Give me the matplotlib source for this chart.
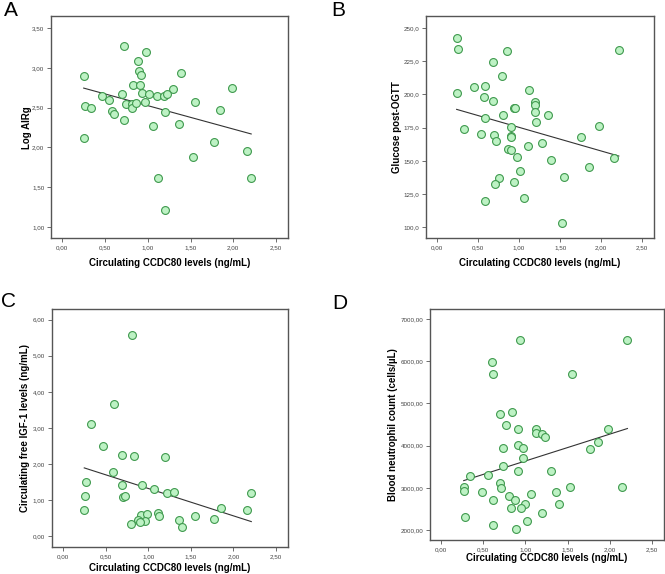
import matplotlib
matplotlib.use("Agg")
import numpy as np
from matplotlib import pyplot as plt
from matplotlib.ticker import FuncFormatter, MultipleLocator

plt.rcParams["font.family"] = ["Liberation Sans", "DejaVu Sans"]

# panel A: Log AIRg
a_x = [0.72, 0.98, 0.88, 0.90, 0.92, 0.25, 1.39, 0.83, 0.91, 1.98, 1.29, 0.70, 0.93, 1.01,
       1.11, 1.19, 1.22, 0.46, 0.55, 0.75, 0.81, 0.82, 0.86, 0.97, 1.55, 0.26, 0.33, 0.58,
       0.60, 1.20, 1.85, 0.72, 1.06, 1.36, 0.25, 1.77, 1.53, 2.16, 1.12, 2.21, 1.20]
a_y = [3.28, 3.20, 3.08, 2.96, 2.91, 2.90, 2.93, 2.78, 2.79, 2.75, 2.74, 2.67, 2.68, 2.67,
       2.65, 2.65, 2.67, 2.65, 2.60, 2.55, 2.55, 2.50, 2.56, 2.57, 2.57, 2.52, 2.50, 2.46,
       2.42, 2.45, 2.47, 2.34, 2.27, 2.30, 2.12, 2.07, 1.88, 1.95, 1.61, 1.62, 1.21]
a_fit = (2.819, -0.294)

# panel B: glucose post-OGTT
b_x = [0.24, 0.256, 0.85, 2.215, 0.68, 0.79, 0.455, 0.59, 0.244, 1.12, 0.57, 0.68, 0.935,
       0.955, 1.19, 1.19, 1.19, 0.805, 1.35, 1.21, 0.59, 0.325, 0.90, 1.97, 0.54, 0.69,
       0.715, 0.905, 0.90, 1.76, 1.11, 1.28, 0.866, 0.90, 0.97, 1.39, 2.16, 1.85, 1.01,
       1.545, 0.75, 0.71, 0.94, 1.06, 0.59, 1.52]
b_y = [242.2, 234.2, 232.4, 233.2, 224.4, 214.1, 205.3, 206.0, 201.3, 203.3, 198.2, 195.2,
       190.0, 190.0, 194.0, 192.0, 186.9, 184.2, 184.2, 179.1, 182.2, 174.1, 175.4, 176.1,
       170.1, 169.1, 165.1, 168.6, 167.6, 168.1, 161.1, 163.3, 159.0, 157.8, 153.0, 150.3,
       152.0, 145.0, 142.0, 138.0, 136.7, 132.7, 134.2, 122.1, 120.1, 102.8]
b_fit = (193.0, -17.8)

# panel C: free IGF-1
c_x = [0.81, 0.60, 0.335, 0.47, 0.69, 0.83, 1.20, 0.59, 0.265, 0.69, 0.93, 1.07, 1.22,
       1.30, 2.21, 0.257, 0.70, 0.73, 0.25, 1.86, 2.16, 1.55, 1.12, 1.125, 0.91, 0.985,
       0.88, 0.96, 0.90, 0.80, 1.36, 1.40, 1.77]
c_y = [5.57, 3.65, 3.10, 2.49, 2.26, 2.23, 2.20, 1.79, 1.49, 1.42, 1.43, 1.31, 1.20,
       1.23, 1.19, 1.11, 1.08, 1.12, 0.72, 0.77, 0.73, 0.57, 0.65, 0.57, 0.59, 0.62,
       0.44, 0.42, 0.38, 0.35, 0.44, 0.26, 0.48]
c_fit = (2.082, -0.759)

# panel D: neutrophil count
d_x = [0.93, 2.21, 0.60, 0.61, 1.55, 0.70, 0.845, 0.77, 0.916, 1.12, 1.13, 1.20, 1.23,
       1.98, 1.86, 1.77, 0.73, 0.916, 0.975, 0.967, 0.735, 0.916, 1.30, 0.56, 0.346,
       0.696, 0.71, 0.267, 0.27, 0.48, 1.07, 1.36, 1.53, 2.15, 0.61, 0.806, 0.877, 0.99,
       1.40, 0.825, 0.947, 1.20, 1.02, 0.28, 0.61, 0.89]
d_y = [6494, 6502, 5973, 5697, 5697, 4756, 4804, 4496, 4401, 4401, 4298, 4267, 4203,
       4401, 4093, 3911, 3943, 4006, 3951, 3698, 3516, 3398, 3398, 3311, 3271, 3113,
       3003, 3010, 2916, 2908, 2845, 2908, 3010, 3010, 2710, 2813, 2702, 2608, 2608,
       2513, 2513, 2410, 2220, 2307, 2110, 2015]
d_fit = (3002.0, 634.6)

x_label = "Circulating CCDC80 levels (ng/mL)"


def comma(decimals):
    return FuncFormatter(lambda v, _: f"{v:.{decimals}f}".replace(".", ","))


def panel(ax, x, y, fit, ylabel, ylim, ystep, ydec, xpad, ypad):
    ax.scatter(x, y, s=32, facecolor="#bdf2c4", edgecolor="#3f9a4e", linewidth=0.8, zorder=3)
    xs = np.array([min(x), max(x)])
    ax.plot(xs, fit[0] + fit[1] * xs, color="#333333", linewidth=0.8, zorder=2)
    ax.set_xlim(-0.13, 2.64)
    ax.set_ylim(*ylim)
    ax.xaxis.set_major_locator(MultipleLocator(0.5))
    ax.yaxis.set_major_locator(MultipleLocator(ystep))
    ax.xaxis.set_major_formatter(comma(2))
    ax.yaxis.set_major_formatter(comma(ydec))
    ax.tick_params(labelsize=4.5, labelcolor="#444444", length=3, width=0.6,
                   color="#555555", pad=2)
    for s in ax.spines.values():
        s.set_color("#555555")
        s.set_linewidth(1.0)
    ax.set_xlabel(x_label, fontsize=7, fontweight="bold", labelpad=xpad)
    ax.set_ylabel(ylabel, fontsize=7, fontweight="bold", labelpad=ypad)


fig = plt.figure(figsize=(6.65, 5.74), dpi=100)
ax_a = fig.add_axes((0.077, 0.585, 0.356, 0.387))
ax_b = fig.add_axes((0.641, 0.585, 0.342, 0.387))
ax_c = fig.add_axes((0.078, 0.047, 0.355, 0.415))
ax_d = fig.add_axes((0.647, 0.059, 0.351, 0.403))

panel(ax_a, a_x, a_y, a_fit, "Log AIRg", (0.86, 3.65), 0.5, 2, 6, 0)
panel(ax_b, b_x, b_y, b_fit, "Glucose post-OGTT", (91.7, 259.0), 25, 1, 6, 1)
panel(ax_c, c_x, c_y, c_fit, "Circulating free IGF-1 levels (ng/mL)", (-0.3, 6.3), 1, 2, 3, 2)
panel(ax_d, d_x, d_y, d_fit, "Blood neutrophil count (cells/\u00b5L)", (1763, 7237), 1000, 2, 1, 2)

for letter, (px, py) in zip("ABCD", [(0.006, 0.998), (0.498, 0.998), (0.002, 0.492), (0.5, 0.487)]):
    fig.text(px, py, letter, fontsize=15, va="top", ha="left")

fig.savefig("out.png", dpi=100)
